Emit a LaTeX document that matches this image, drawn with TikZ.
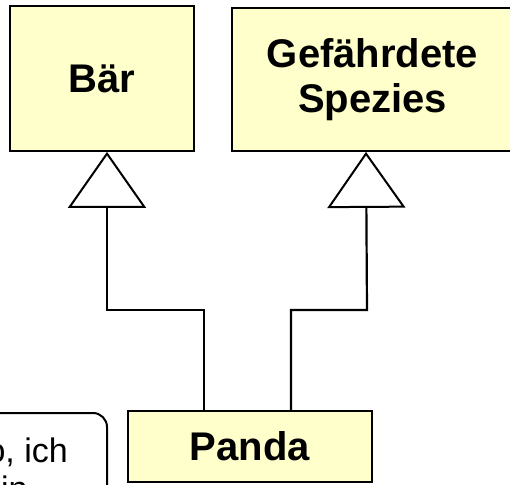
\documentclass[tikz,border=0pt]{standalone}
\usepackage{fontspec}
\setmainfont{Liberation Sans}
\usetikzlibrary{arrows.meta}
\definecolor{classfill}{HTML}{FFFFCC}
\tikzset{
  classbox/.style={draw=black, line width=1.8pt, fill=classfill, inner sep=0pt,
    font=\fontsize{40}{45}\selectfont\bfseries, align=center},
  generalization/.style={draw=black, line width=2.2pt,
    -{Triangle[open, length=56pt, width=78pt, line width=2pt]}},
  callout/.style={draw=black, line width=2pt, fill=white, rounded corners=14pt},
  callouttext/.style={font=\fontsize{34}{39}\selectfont, inner sep=0pt}
}
\begin{document}
\begin{tikzpicture}[x=1pt, y=1pt]
  \useasboundingbox (0,0) rectangle (510,484);
  \clip (0,0) rectangle (510,484);
  \fill[white] (0,0) rectangle (510,484);
  % classes
  \node[classbox, minimum width=184pt, minimum height=145pt] (baer) at (102,405.5) {Bär};
  \node[classbox, minimum width=281pt, minimum height=143pt] (spezies) at (372.5,404.5) {Gefährdete\\Spezies};
  \node[classbox, minimum width=244pt, minimum height=71pt] (panda) at (250,37.5) {Panda};
  % callout (partly outside the picture)
  \node[callout, minimum width=140pt, minimum height=100pt, anchor=north east] (note) at (108,72) {};
  \node[callouttext, anchor=base east] (note1) at (68,22) {o, ich};
  \node[callouttext, anchor=base west] (note2) at (1,-16) {in};
  % connectors
  \coordinate (lbend) at (107,174);
  \coordinate (rbend) at (367,174);
  \draw[generalization] ([xshift=-46pt]panda.north) |- (lbend) -- ([xshift=5pt]baer.south);
  \draw[generalization] ([xshift=41pt]panda.north) |- (rbend) -- ([xshift=-6.5pt]spezies.south);
\end{tikzpicture}
\end{document}
